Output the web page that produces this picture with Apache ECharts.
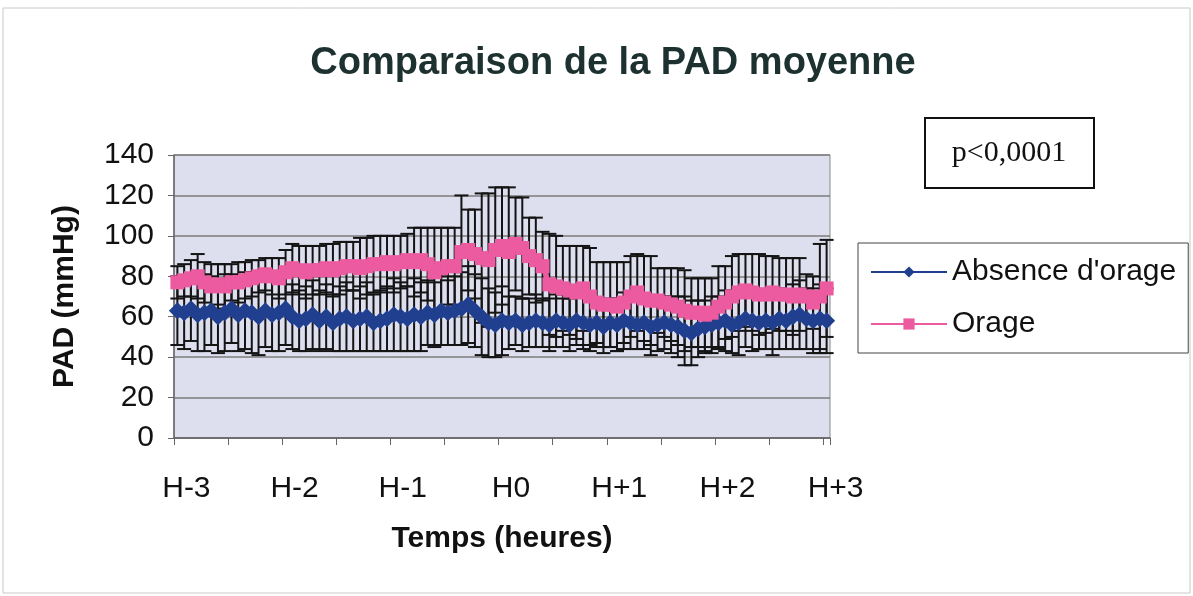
<!DOCTYPE html>
<html>
<head>
<meta charset="utf-8">
<script src="https://cdn.jsdelivr.net/npm/echarts@6/dist/echarts.min.js"></script>
<style>
html,body{margin:0;padding:0;background:#fff;}
#pad{width:1193px;height:596px;}
</style>
</head>
<body>
<div id="pad"></div>
<script>
// libellés de l'axe des temps
const tickLabels = ['H-3', 'H-2', 'H-1', 'H0', 'H+1', 'H+2', 'H+3'];

// PAD moyenne, absence d'orage (mmHg)
const absenceMean = [
  63,62,64,61,62,63,60,62,64,61,63,62,60,63,61,62,64,
  60,58,59,61,58,60,57,59,60,58,59,
  60,57,58,59,61,60,59,61,60,
  62,61,63,62,63,64,66,63,
  60,57,56,
  58,57,58,56,57,58,57,56,58,57,56,58,57,
  56,57,55,57,56,58,57,56,57,55,56,57,56,
  55,53,52,54,55,
  56,57,58,56,57,59,58,57,58,57,59,58,60,61,59,58,59,58
];
// écart-type, absence d'orage
const absenceSd = [
  17,18,16,18,19,17,18,19,17,18,19,20,19,18,18,19,18,
  16,15,16,17,15,16,14,16,17,15,16,17,14,15,16,18,17,16,18,17,
  16,16,17,16,17,18,19,18,
  19,17,16,17,
  13,12,13,12,13,12,13,13,12,13,12,13,
  13,12,13,12,13,14,13,12,13,14,13,13,14,
  15,17,16,14,13,
  14,13,15,14,16,14,15,13,14,16,15,14,16,17,15,16,17,16
];
// PAD moyenne, orage (mmHg)
const orageMean = [
  77,78,79,80,77,75,76,75,77,77,
  78,79,80,81,80,79,82,84,83,82,
  83,83,84,83,84,85,85,84,85,86,
  86,87,86,87,88,87,88,86,82,84,
  85,85,92,93,91,89,88,93,95,92,
  96,94,90,88,85,76,75,74,73,72,
  74,70,67,66,66,65,67,70,72,69,
  68,68,67,66,65,63,62,62,61,62,
  65,67,70,72,73,72,71,71,72,71,
  71,70,71,70,67,70,74
];
// écart-type, orage
const orageSd = [
  8,8,9,11,10,11,10,11,9,10,
  9,9,8,8,9,10,11,12,12,13,
  12,12,12,13,13,12,12,15,14,14,
  14,13,14,13,13,17,16,18,22,20,
  19,19,28,20,22,32,33,31,29,32,
  23,25,19,21,17,25,25,21,22,23,
  21,24,20,21,21,22,20,20,19,21,
  22,16,17,18,19,20,17,17,18,17,
  20,18,20,19,18,19,20,19,18,18,
  18,19,18,11,13,26,24
];

const categories = absenceMean.map((v, i) => i);

function errorBars(mean, sd) {
  return {
    type: 'custom',
    silent: true,
    z: 1,
    data: mean.map((m, i) => [i, m - sd[i], m + sd[i]]),
    encode: { x: 0, y: [1, 2] },
    renderItem: function (params, api) {
      let lo = api.coord([api.value(0), api.value(1)]);
      let hi = api.coord([api.value(0), api.value(2)]);
      let half = 7;
      let style = { stroke: '#141414', lineWidth: 2 };
      return {
        type: 'group',
        children: [
          { type: 'line', shape: { x1: lo[0], y1: lo[1], x2: hi[0], y2: hi[1] }, style: style },
          { type: 'line', shape: { x1: lo[0] - half, y1: lo[1], x2: lo[0] + half, y2: lo[1] }, style: style },
          { type: 'line', shape: { x1: hi[0] - half, y1: hi[1], x2: hi[0] + half, y2: hi[1] }, style: style }
        ]
      };
    }
  };
}

let mycharts = echarts.init(document.getElementById('pad'));
let options = {
  backgroundColor: '#fff',
  animation: false,
  title: {
    text: 'Comparaison de la PAD moyenne',
    left: 608,
    textAlign: 'center',
    top: 40,
    textStyle: { fontFamily: 'Liberation Sans', fontWeight: 'bold', fontSize: 38, color: '#1d3131' }
  },
  legend: {
    data: ["Absence d'orage", 'Orage'],
    orient: 'vertical',
    left: 858,
    top: 243,
    padding: [14, 12, 14, 12],
    itemGap: 22,
    itemWidth: 76,
    itemHeight: 14,
    borderColor: '#444',
    borderWidth: 1,
    textStyle: { fontFamily: 'Liberation Sans', fontSize: 30, color: '#111' }
  },
  grid: {
    left: 174,
    right: 363,
    top: 155,
    bottom: 158,
    show: true,
    backgroundColor: '#dddeee',
    borderColor: '#8a8a8a',
    borderWidth: 1
  },
  xAxis: {
    type: 'category',
    data: categories,
    boundaryGap: true,
    name: 'Temps (heures)',
    nameLocation: 'middle',
    nameGap: 86,
    nameTextStyle: { fontFamily: 'Liberation Sans', fontWeight: 'bold', fontSize: 30, color: '#111' },
    axisLine: { lineStyle: { color: '#666', width: 1.5 } },
    axisTick: { show: true, interval: 7, length: 7, lineStyle: { color: '#666' } },
    axisLabel: {
      interval: 15,
      margin: 36,
      padding: [0, 0, 0, 18],
      fontFamily: 'Liberation Sans',
      fontSize: 30,
      color: '#111',
      formatter: function (v, i) { return tickLabels[i / 16] || ''; }
    },
    splitLine: { show: false }
  },
  yAxis: {
    type: 'value',
    min: 0,
    max: 140,
    interval: 20,
    name: 'PAD (mmHg)',
    nameLocation: 'middle',
    nameRotate: 90,
    nameGap: 94,
    nameTextStyle: { fontFamily: 'Liberation Sans', fontWeight: 'bold', fontSize: 30, color: '#111' },
    axisLine: { show: true, lineStyle: { color: '#666', width: 1.5 } },
    axisTick: { show: true, length: 6, lineStyle: { color: '#666' } },
    axisLabel: { margin: 20, fontFamily: 'Liberation Sans', fontSize: 30, color: '#111' },
    splitLine: { lineStyle: { color: '#7c7c7c', width: 1.5 } }
  },
  graphic: [
    { type: 'rect', shape: { x: 3, y: 8, width: 1187, height: 585 }, style: { fill: 'none', stroke: '#c8c8c8', lineWidth: 1 }, z: -10 },
    { type: 'rect', shape: { x: 925, y: 118, width: 169, height: 70 }, style: { fill: '#fff', stroke: '#111', lineWidth: 2 } },
    { type: 'text', x: 1009, y: 153, style: { text: 'p<0,0001', fontFamily: 'Liberation Serif', fontSize: 30, fill: '#111', align: 'center', verticalAlign: 'middle' } }
  ],
  series: [
    errorBars(absenceMean, absenceSd),
    errorBars(orageMean, orageSd),
    {
      name: "Absence d'orage",
      type: 'line',
      data: absenceMean,
      symbol: 'diamond',
      symbolSize: 17,
      showAllSymbol: true,
      z: 3,
      itemStyle: { color: '#213f8f' },
      lineStyle: { color: '#213f8f', width: 5 }
    },
    {
      name: 'Orage',
      type: 'line',
      data: orageMean,
      symbol: 'rect',
      symbolSize: 14,
      showAllSymbol: true,
      z: 4,
      itemStyle: { color: '#ec5aa0' },
      lineStyle: { color: '#ec5aa0', width: 5 }
    }
  ]
};
mycharts.setOption(options, true);
window.addEventListener('resize', () => mycharts.resize());
</script>
</body>
</html>
